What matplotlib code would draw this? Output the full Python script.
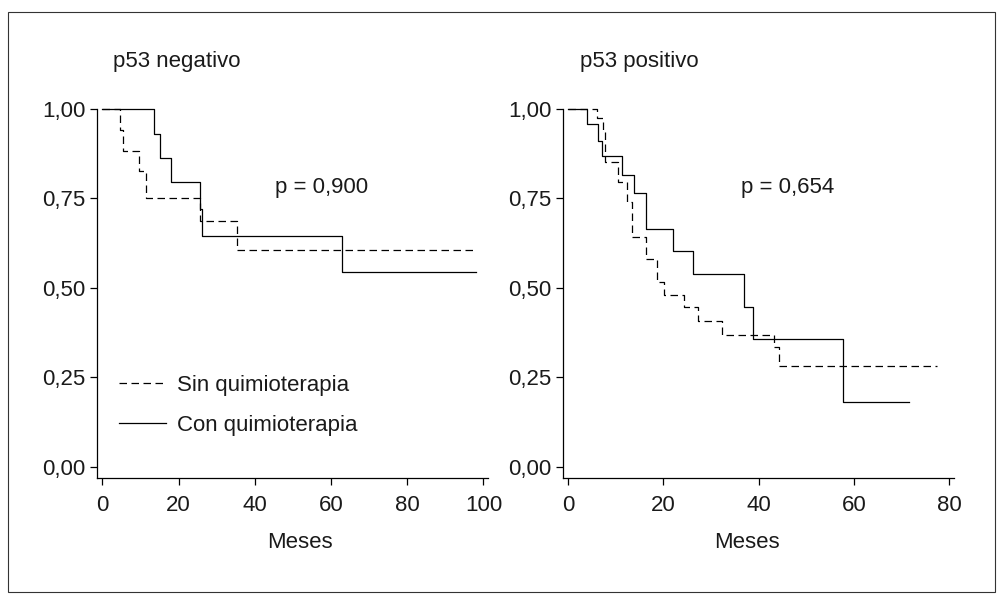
import matplotlib
matplotlib.use("Agg")
import matplotlib.pyplot as plt
from matplotlib.ticker import FuncFormatter
from matplotlib.patches import Rectangle

plt.rcParams['font.family'] = ['Liberation Sans', 'DejaVu Sans']

# Kaplan-Meier curves (months, survival)
neg_con_t = [0, 13.6, 15.0, 18.1, 25.5, 26.2, 62.8]
neg_con_s = [1.0, 0.930, 0.862, 0.796, 0.72, 0.645, 0.544]
neg_con_end = 98.0

neg_sin_t = [0, 4.5, 5.5, 9.7, 11.5, 25.5, 35.4]
neg_sin_s = [1.0, 0.94, 0.883, 0.827, 0.75, 0.688, 0.606]
neg_sin_end = 98.3

pos_con_t = [0, 4.0, 6.3, 7.1, 11.3, 13.9, 16.3, 22.1, 26.3, 37.0, 38.9, 57.8]
pos_con_s = [1.0, 0.957, 0.911, 0.869, 0.815, 0.764, 0.665, 0.602, 0.539, 0.445, 0.356, 0.181]
pos_con_end = 71.6

pos_sin_t = [0, 5.95, 7.3, 7.8, 10.4, 12.3, 13.3, 16.3, 18.7, 20.2, 24.4, 27.3, 32.4, 43.2, 44.3]
pos_sin_s = [1.0, 0.975, 0.94, 0.852, 0.797, 0.740, 0.643, 0.580, 0.515, 0.479, 0.445, 0.407, 0.367, 0.333, 0.280]
pos_sin_end = 77.4

y_ticks = [0.0, 0.25, 0.5, 0.75, 1.0]
neg_x_ticks = [0, 20, 40, 60, 80, 100]
pos_x_ticks = [0, 20, 40, 60, 80]

TXT = '#1a1a1a'
FS = 16
DASH = (0, (6, 3.6))

fig = plt.figure(figsize=(10.07, 6.04), dpi=100)
fig.patches.append(Rectangle((8 / 1007, 1 - 592 / 604), 987 / 1007, 580 / 604,
                             transform=fig.transFigure, fill=False,
                             edgecolor='#333333', linewidth=0.8))

ax1 = fig.add_axes([0.096, 0.2086, 0.3886, 0.611])
ax2 = fig.add_axes([0.5586, 0.2086, 0.389, 0.611])


def km(ax, t, s, end, dashed):
    ls = DASH if dashed else '-'
    ax.step(t + [end], s + [s[-1]], where='post', color='black',
            linewidth=0.9, linestyle=ls, clip_on=False)


def style(ax, xticks, xlim, label_x):
    for side in ['top', 'right']:
        ax.spines[side].set_visible(False)
    for side in ['left', 'bottom']:
        ax.spines[side].set_linewidth(0.9)
    ax.set_xlim(*xlim)
    ax.set_ylim(-0.032, 1.0)
    ax.set_xticks(xticks)
    ax.set_yticks(y_ticks)
    ax.yaxis.set_major_formatter(FuncFormatter(lambda v, p: f"{v:.2f}".replace('.', ',')))
    ax.tick_params(direction='out', length=5, width=0.9, labelsize=FS,
                   colors='black', labelcolor=TXT, pad=3)
    ax.tick_params(axis='x', pad=7)
    ax.set_xlabel('Meses', fontsize=FS, color=TXT, labelpad=11.5, x=label_x)


km(ax1, neg_sin_t, neg_sin_s, neg_sin_end, True)
km(ax1, neg_con_t, neg_con_s, neg_con_end, False)
style(ax1, neg_x_ticks, (-1.5, 101.2), 0.52)
ax1.text(45.3, 0.779, 'p = 0,900', fontsize=FS, color=TXT, va='center')

km(ax2, pos_sin_t, pos_sin_s, pos_sin_end, True)
km(ax2, pos_con_t, pos_con_s, pos_con_end, False)
style(ax2, pos_x_ticks, (-1.2, 81.1), 0.47)
ax2.text(36.3, 0.779, 'p = 0,654', fontsize=FS, color=TXT, va='center')

# legend in the left panel
h_sin, = ax1.plot([], [], color='black', linewidth=0.9, linestyle=DASH)
h_con, = ax1.plot([], [], color='black', linewidth=0.9)
leg = ax1.legend([h_sin, h_con], ['Sin quimioterapia', 'Con quimioterapia'],
                 loc='upper left', bbox_to_anchor=(0.057, 0.28), frameon=False,
                 fontsize=FS, handlelength=2.1, handletextpad=0.5, labelspacing=0.85,
                 borderpad=0, borderaxespad=0)
for t in leg.get_texts():
    t.set_color(TXT)

fig.text(113 / 1007, 1 - 62 / 604, 'p53 negativo', fontsize=FS, color=TXT, va='center')
fig.text(580 / 1007, 1 - 62 / 604, 'p53 positivo', fontsize=FS, color=TXT, va='center')

fig.savefig('out.png', dpi=100)
